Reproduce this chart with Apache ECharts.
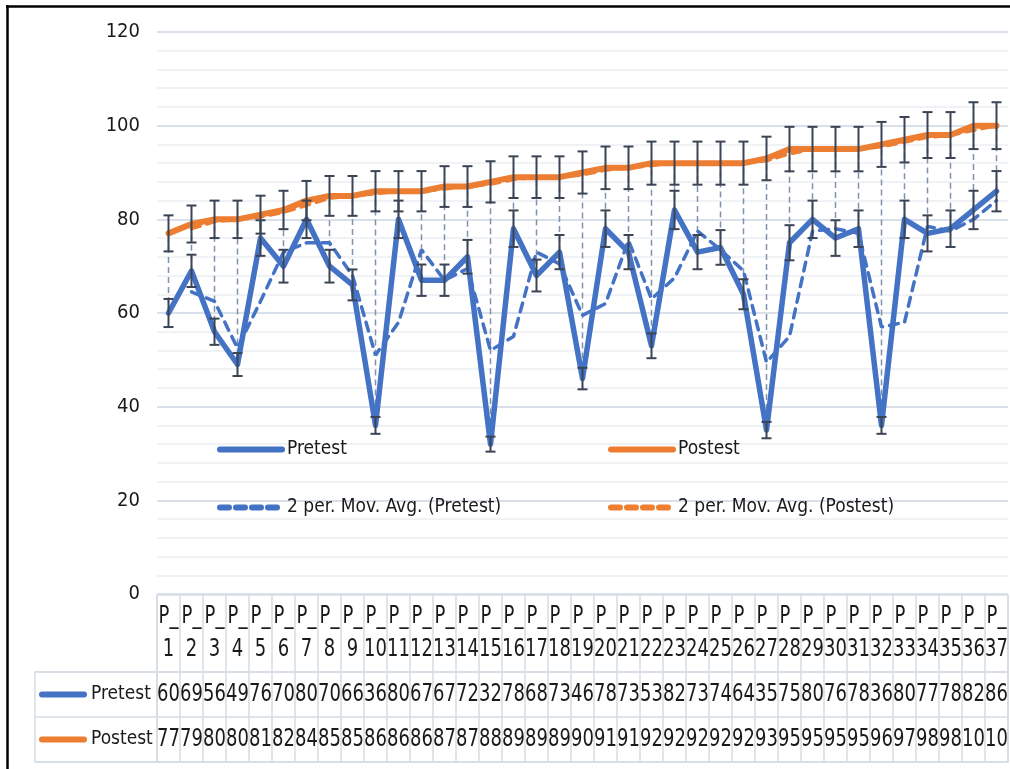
<!DOCTYPE html>
<html>
<head>
<meta charset="utf-8">
<script src="https://cdn.jsdelivr.net/npm/echarts@6/dist/echarts.min.js"></script>
<style>
html, body { margin: 0; padding: 0; background: #fff; }
#main { width: 1010px; height: 769px; }
</style>
</head>
<body>
<div id="main"></div>
<script>
// data
var categories = ['P_1', 'P_2', 'P_3', 'P_4', 'P_5', 'P_6', 'P_7', 'P_8', 'P_9', 'P_10',
	'P_11', 'P_12', 'P_13', 'P_14', 'P_15', 'P_16', 'P_17', 'P_18', 'P_19', 'P_20',
	'P_21', 'P_22', 'P_23', 'P_24', 'P_25', 'P_26', 'P_27', 'P_28', 'P_29', 'P_30',
	'P_31', 'P_32', 'P_33', 'P_34', 'P_35', 'P_36', 'P_37'];
var pretest = [60, 69, 56, 49, 76, 70, 80, 70, 66, 36, 80, 67, 67, 72, 32, 78, 68, 73, 46,
	78, 73, 53, 82, 73, 74, 64, 35, 75, 80, 76, 78, 36, 80, 77, 78, 82, 86];
var postest = [77, 79, 80, 80, 81, 82, 84, 85, 85, 86, 86, 86, 87, 87, 88, 89, 89, 89, 90,
	91, 91, 92, 92, 92, 92, 92, 93, 95, 95, 95, 95, 96, 97, 98, 98, 100, 100];
var rowNames = ['Pretest', 'Postest'];
var maNames = ['2 per. Mov. Avg. (Pretest)', '2 per. Mov. Avg. (Postest)'];
var errorPct = 0.05; // percentage error bars

var FONT = '"DejaVu Sans Condensed", "DejaVu Sans", sans-serif';
var BLUE = '#4472C4';
var ORANGE = '#ED7D31';
var CELL = '#D6DCE5';
var INK = '#1a1a1a';

// 2 period moving average (Excel trendline)
function movAvg(arr) {
	var out = [null];
	for (var i = 1; i < arr.length; i++) {
		out.push((arr[i - 1] + arr[i]) / 2);
	}
	return out;
}

function errData(arr) {
	var out = [];
	for (var i = 0; i < arr.length; i++) {
		out.push([i, arr[i] * (1 - errorPct), arr[i] * (1 + errorPct)]);
	}
	return out;
}

function renderErrorBar(params, api) {
	var lo = api.coord([api.value(0), api.value(1)]);
	var hi = api.coord([api.value(0), api.value(2)]);
	var w = 5;
	var st = { stroke: '#3A4454', lineWidth: 2 };
	return {
		type: 'group',
		children: [
			{ type: 'line', shape: { x1: lo[0], y1: lo[1], x2: hi[0], y2: hi[1] }, style: st },
			{ type: 'line', shape: { x1: lo[0] - w, y1: lo[1], x2: lo[0] + w, y2: lo[1] }, style: st },
			{ type: 'line', shape: { x1: hi[0] - w, y1: hi[1], x2: hi[0] + w, y2: hi[1] }, style: st }
		]
	};
}

// high-low lines between the two series
var hiLo = [];
for (var i = 0; i < categories.length; i++) {
	hiLo.push([i, Math.min(pretest[i], postest[i]), Math.max(pretest[i], postest[i])]);
}
function renderHiLo(params, api) {
	var lo = api.coord([api.value(0), api.value(1)]);
	var hi = api.coord([api.value(0), api.value(2)]);
	return {
		type: 'line',
		shape: { x1: lo[0], y1: lo[1], x2: hi[0], y2: hi[1] },
		style: { stroke: '#8093AD', lineWidth: 1.5, lineDash: [6, 4] }
	};
}

// table cells (text slightly stretched like the narrow Excel font)
var headCells = [];
var valueCells = [];
for (var i = 0; i < categories.length; i++) {
	headCells.push([i, 0]);
	valueCells.push([i, 0, pretest[i]]);
	valueCells.push([i, 1, postest[i]]);
}
function cellText(c, txt) {
	return {
		type: 'text', x: c[0], y: c[1], scaleY: 1.28,
		style: {
			text: txt, fontFamily: FONT, fontSize: 20, fill: INK, lineHeight: 26,
			align: 'center', verticalAlign: 'middle',
			width: 24, overflow: 'truncate', ellipsis: ''
		}
	};
}
function renderHead(params, api) {
	var c = api.coord([api.value(0), api.value(1)]);
	return cellText([c[0], c[1] - 1], categories[api.value(0)].replace('_', '_\n'));
}
function renderValue(params, api) {
	var c = api.coord([api.value(0), api.value(1)]);
	return cellText(c, String(api.value(2)));
}

var myChart = echarts.init(document.getElementById('main'));
var tableLeft = 157, tableWidth = 851;
var legendText = { fontFamily: FONT, fontSize: 19, color: INK };

var option = {
	animation: false,
	backgroundColor: '#fff',
	textStyle: { fontFamily: FONT },
	graphic: [
		{ type: 'line', shape: { x1: 6, y1: 6.5, x2: 1010, y2: 6.5 }, style: { stroke: '#000', lineWidth: 2.5 } },
		{ type: 'line', shape: { x1: 7.5, y1: 5, x2: 7.5, y2: 769 }, style: { stroke: '#000', lineWidth: 2.5 } }
	],
	legend: [{
		data: ['Pretest', maNames[0]],
		orient: 'vertical', left: 212, top: 435,
		itemWidth: 62, itemHeight: 20, itemGap: 39,
		itemStyle: { opacity: 0 }, lineStyle: { width: 6, cap: 'round' },
		textStyle: legendText
	}, {
		data: ['Postest', maNames[1]],
		orient: 'vertical', left: 603, top: 435,
		itemWidth: 62, itemHeight: 20, itemGap: 39,
		itemStyle: { opacity: 0 }, lineStyle: { width: 6, cap: 'round' },
		textStyle: legendText
	}],
	grid: [
		{ left: tableLeft, width: tableWidth, top: 32, height: 562 },
		{ left: tableLeft, width: tableWidth, top: 595, height: 77, show: true, borderColor: CELL, borderWidth: 1.5 },
		{ left: tableLeft, width: tableWidth, top: 672, height: 90, show: true, borderColor: CELL, borderWidth: 1.5 },
		{ left: 35, width: 122, top: 672, height: 90, show: true, borderColor: CELL, borderWidth: 1.5 }
	],
	xAxis: [
		{ type: 'category', gridIndex: 0, data: categories, show: false },
		{ type: 'category', gridIndex: 1, data: categories, axisLine: { show: false }, axisTick: { show: false },
			axisLabel: { show: false }, splitLine: { show: true, interval: 0, lineStyle: { color: CELL, width: 1.5 } } },
		{ type: 'category', gridIndex: 2, data: categories, axisLine: { show: false }, axisTick: { show: false },
			axisLabel: { show: false }, splitLine: { show: true, interval: 0, lineStyle: { color: CELL, width: 1.5 } } },
		{ type: 'value', gridIndex: 3, show: false }
	],
	yAxis: [
		{
			type: 'value', gridIndex: 0, min: 0, max: 120, interval: 20,
			axisLine: { show: false }, axisTick: { show: false },
			axisLabel: { fontFamily: FONT, fontSize: 20, color: INK, margin: 17 },
			splitLine: { lineStyle: { color: '#DAE0EA', width: 2 } },
			minorTick: { show: false, splitNumber: 5 },
			minorSplitLine: { show: true, lineStyle: { color: '#F0F2F6', width: 2 } }
		},
		{ type: 'category', gridIndex: 1, data: ['head'], show: false },
		{ type: 'category', gridIndex: 2, data: rowNames, inverse: true, axisLine: { show: false }, axisTick: { show: false },
			axisLabel: { show: false }, splitLine: { show: true, interval: 0, lineStyle: { color: CELL, width: 1.5 } } },
		{
			type: 'category', gridIndex: 3, data: rowNames, inverse: true,
			axisLine: { show: false }, axisTick: { show: false },
			splitLine: { show: true, interval: 0, lineStyle: { color: CELL, width: 1.5 } },
			axisLabel: {
				inside: true, margin: 4,
				formatter: function (v, idx) { return '{k' + idx + '|}{t|' + v + '}'; },
				rich: {
					k0: { width: 48, height: 6, backgroundColor: BLUE, borderRadius: 3 },
					k1: { width: 48, height: 6, backgroundColor: ORANGE, borderRadius: 3 },
					t: { fontFamily: FONT, fontSize: 19, color: INK, padding: [0, 0, 0, 4] }
				}
			}
		}
	],
	series: [
		{
			type: 'custom', name: 'hilo', xAxisIndex: 0, yAxisIndex: 0, z: 1,
			renderItem: renderHiLo, data: hiLo, silent: true
		},
		{
			name: 'Pretest', type: 'line', data: pretest, symbol: 'none', z: 3,
			lineStyle: { color: BLUE, width: 5.5, cap: 'round', join: 'round' }, itemStyle: { color: BLUE }
		},
		{
			name: 'Postest', type: 'line', data: postest, symbol: 'none', z: 3,
			lineStyle: { color: ORANGE, width: 6, cap: 'round', join: 'round' }, itemStyle: { color: ORANGE }
		},
		{
			name: maNames[0], type: 'line', data: movAvg(pretest), symbol: 'none', z: 4,
			lineStyle: { color: BLUE, width: 3.5, type: [9, 7], cap: 'round' }, itemStyle: { color: BLUE }
		},
		{
			name: maNames[1], type: 'line', data: movAvg(postest), symbol: 'none', z: 2,
			lineStyle: { color: ORANGE, width: 3.5, type: [9, 7], cap: 'round' }, itemStyle: { color: ORANGE }
		},
		{ type: 'custom', name: 'errPre', z: 5, renderItem: renderErrorBar, data: errData(pretest), silent: true },
		{ type: 'custom', name: 'errPost', z: 5, renderItem: renderErrorBar, data: errData(postest), silent: true },
		{ type: 'custom', xAxisIndex: 1, yAxisIndex: 1, renderItem: renderHead, data: headCells, silent: true },
		{ type: 'custom', xAxisIndex: 2, yAxisIndex: 2, renderItem: renderValue, data: valueCells, silent: true }
	]
};
myChart.setOption(option);
</script>
</body>
</html>
